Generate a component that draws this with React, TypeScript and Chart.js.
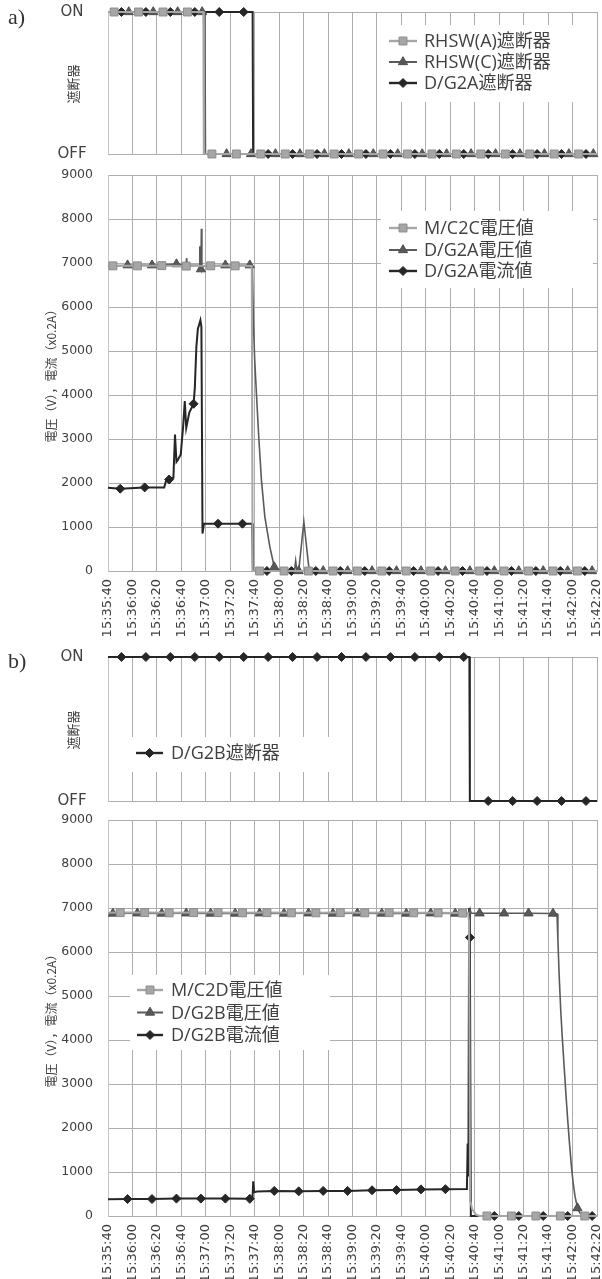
import React, { useEffect, useRef } from "react";
import { Chart, registerables } from "chart.js";

Chart.register(...registerables);

// Time axis: seconds after 15:35:40, one tick every 20 s up to 15:42:20
const START_SECONDS = 15 * 3600 + 35 * 60 + 40;
const SPAN_SECONDS = 400;
const TICK_STEP = 20;

// ---------- a) breaker states (1 = ON, 0 = OFF) ----------
const rhswATimes = [0, 5, 25, 45, 65, 78, 78.4, 85, 105, 125, 145, 165, 185, 205, 225, 245, 265, 285, 305, 325, 345, 365, 385, 400];
const rhswAStates = [1, 1, 1, 1, 1, 1, 0, 0, 0, 0, 0, 0, 0, 0, 0, 0, 0, 0, 0, 0, 0, 0, 0, 0];
const rhswAMarks = [5, 25, 45, 65, 85, 105, 125, 145, 165, 185, 205, 225, 245, 265, 285, 305, 325, 345, 365, 385];

const rhswCTimes = [0, 17, 37, 57, 77, 79.3, 79.7, 97, 117, 137, 157, 177, 197, 217, 237, 257, 277, 297, 317, 337, 357, 377, 397, 400];
const rhswCStates = [1, 1, 1, 1, 1, 1, 0, 0, 0, 0, 0, 0, 0, 0, 0, 0, 0, 0, 0, 0, 0, 0, 0, 0];
const rhswCMarks = [17, 37, 57, 77, 97, 117, 137, 157, 177, 197, 217, 237, 257, 277, 297, 317, 337, 357, 377, 397];

const dg2aBrkTimes = [0, 11, 31, 51, 71, 91, 111, 118.3, 118.7, 131, 151, 171, 191, 211, 231, 251, 271, 291, 311, 331, 351, 371, 391, 400];
const dg2aBrkStates = [1, 1, 1, 1, 1, 1, 1, 1, 0, 0, 0, 0, 0, 0, 0, 0, 0, 0, 0, 0, 0, 0, 0, 0];
const dg2aBrkMarks = [11, 31, 51, 71, 91, 111, 131, 151, 171, 191, 211, 231, 251, 271, 291, 311, 331, 351, 371, 391];

// ---------- a) voltages / current ----------
const mc2cVTimes = [0, 4, 24, 44, 64, 84, 104, 117.6, 118.3, 124, 144, 164, 184, 204, 224, 244, 264, 284, 304, 324, 344, 364, 384, 400];
const mc2cVValues = [6930, 6935, 6935, 6940, 6930, 6935, 6935, 6930, 0, 0, 0, 0, 0, 0, 0, 0, 0, 0, 0, 0, 0, 0, 0, 0];
const mc2cVMarks = [4, 24, 44, 64, 84, 104, 124, 144, 164, 184, 204, 224, 244, 264, 284, 304, 324, 344, 364, 384];

const dg2aVTimes = [0, 16, 36, 56, 63.8, 64.3, 64.8, 74.6, 75.1, 75.5, 76, 76.4, 76.8, 78, 96, 116, 118.1, 119, 120, 121.4, 123.3, 125.5, 128.3, 132.4, 136, 139, 144, 152.5, 153.5, 154.5, 156, 160.2, 164.6, 176, 196, 216, 236, 256, 276, 296, 316, 336, 356, 376, 396, 400];
const dg2aVValues = [6930, 6950, 6950, 6975, 6960, 7110, 6950, 6950, 7380, 6900, 6860, 7780, 6900, 6930, 6950, 6950, 6930, 5600, 4800, 4040, 3050, 2070, 1230, 550, 90, 40, 0, 0, 230, 0, 0, 1120, 0, 0, 0, 0, 0, 0, 0, 0, 0, 0, 0, 0, 0, 0];
const dg2aVMarks = [16, 36, 56, 76, 96, 116, 136, 156, 176, 196, 216, 236, 256, 276, 296, 316, 336, 356, 376, 396];

const dg2aITimes = [0, 10, 30, 46, 47.5, 50, 53.5, 54.8, 56, 57, 59.5, 61.5, 62.8, 64, 66.5, 70, 71, 72.3, 73.5, 75.6, 76.4, 77.3, 78.5, 90, 110, 118, 118.5, 130, 150, 170, 190, 210, 230, 250, 270, 290, 310, 330, 350, 370, 390, 400];
const dg2aIValues = [1890, 1870, 1900, 1900, 2050, 2080, 2120, 3100, 2480, 2520, 2650, 3300, 3860, 3250, 3600, 3800, 4150, 5100, 5500, 5700, 5550, 850, 1080, 1075, 1075, 1075, 0, 0, 0, 0, 0, 0, 0, 0, 0, 0, 0, 0, 0, 0, 0, 0];
const dg2aIMarks = [10, 30, 50, 70, 90, 110, 130, 150, 170, 190, 210, 230, 250, 270, 290, 310, 330, 350, 370, 390];

// ---------- b) breaker state ----------
const dg2bBrkTimes = [0, 11, 31, 51, 71, 91, 111, 131, 151, 171, 191, 211, 231, 251, 271, 291, 295.6, 296, 311, 331, 351, 371, 391, 400];
const dg2bBrkStates = [1, 1, 1, 1, 1, 1, 1, 1, 1, 1, 1, 1, 1, 1, 1, 1, 1, 0, 0, 0, 0, 0, 0, 0];
const dg2bBrkMarks = [11, 31, 51, 71, 91, 111, 131, 151, 171, 191, 211, 231, 251, 271, 291, 311, 331, 351, 371, 391];

// ---------- b) voltages / current ----------
const mc2dVTimes = [0, 10, 30, 50, 70, 90, 110, 130, 150, 170, 190, 210, 230, 250, 270, 290, 294.6, 295.3, 296.2, 298, 301, 304, 310, 330, 350, 370, 390, 400];
const mc2dVValues = [6890, 6895, 6895, 6890, 6895, 6895, 6890, 6895, 6890, 6890, 6895, 6890, 6895, 6890, 6890, 6885, 6880, 6700, 350, 150, 30, 0, 0, 0, 0, 0, 0, 0];
const mc2dVMarks = [10, 30, 50, 70, 90, 110, 130, 150, 170, 190, 210, 230, 250, 270, 290, 310, 330, 350, 370, 390];

const dg2bVTimes = [0, 4, 24, 44, 64, 84, 104, 124, 144, 164, 184, 204, 224, 244, 264, 284, 295.8, 296.3, 297, 304, 324, 344, 364, 367.3, 368, 369, 370.3, 371.5, 373, 374.5, 376, 377.5, 379, 380.5, 382, 384, 386, 389, 392, 400];
const dg2bVValues = [6875, 6875, 6880, 6875, 6880, 6875, 6875, 6880, 6875, 6880, 6875, 6880, 6875, 6875, 6880, 6875, 6875, 6960, 6880, 6880, 6880, 6880, 6875, 6870, 6300, 5500, 4700, 4100, 3450, 2800, 2200, 1650, 1150, 750, 450, 180, 70, 10, 0, 0];
const dg2bVMarks = [4, 24, 44, 64, 84, 104, 124, 144, 164, 184, 204, 224, 244, 264, 284, 304, 324, 344, 364, 384];

const dg2bITimes = [0, 16, 36, 56, 76, 96, 116, 118.2, 118.8, 119.5, 122, 136, 156, 176, 196, 216, 236, 256, 276, 293.6, 294.2, 294.8, 295.4, 296, 296.8, 316, 336, 356, 376, 396, 400];
const dg2bIValues = [380, 385, 385, 395, 395, 395, 390, 390, 790, 540, 555, 570, 560, 570, 570, 585, 590, 605, 610, 615, 1650, 900, 7000, 6330, 0, 0, 0, 0, 0, 0, 0];
const dg2bIMarks = [16, 36, 56, 76, 96, 116, 136, 156, 176, 196, 216, 236, 256, 276, 296, 316, 336, 356, 376, 396];

// ---------- styling ----------
type Mark = "square" | "triangle" | "diamond";

const MARKS: Record<Mark, { line: string; lineWidth: number; fill: string; stroke: string; pointStyle: string; radius: number }> = {
  square: { line: "#a6a6a6", lineWidth: 2, fill: "#a6a6a6", stroke: "#8c8c8c", pointStyle: "rect", radius: 5.6 },
  triangle: { line: "#5a5a5a", lineWidth: 1.6, fill: "#595959", stroke: "#4d4d4d", pointStyle: "triangle", radius: 5.3 },
  diamond: { line: "#262626", lineWidth: 2, fill: "#262626", stroke: "#262626", pointStyle: "rectRot", radius: 4.5 },
};

const GRID = "#adadad";
const TEXT = "#404040";
const TICK_FONT = "DejaVu Sans";
const CJK_FONT = "'Open Sans', 'Noto Sans CJK JP', sans-serif";
const PLOT_LEFT = 108;
const PLOT_RIGHT = 597;
const PAGE_W = 602;

type Series = { label: string; mark: Mark; times: number[]; values: number[]; marks: number[] };

type LegendSpec = { box: [number, number, number, number]; rows: number[]; lineX0: number; lineX1: number; textX: number };

type PanelSpec = {
  top: number;
  height: number;
  plotTop: number;
  plotBottom: number;
  breaker: boolean;
  series: Series[];
  legend: LegendSpec;
  yTitle: { text: string; x: number; y: number; size: number };
};

const pad2 = (n: number) => (n < 10 ? "0" + n : String(n));
const clock = (offset: number) => {
  const s = START_SECONDS + offset;
  return `${Math.floor(s / 3600)}:${pad2(Math.floor((s % 3600) / 60))}:${pad2(s % 60)}`;
};

function drawMark(ctx: CanvasRenderingContext2D, mark: Mark, x: number, y: number) {
  const st = MARKS[mark];
  const r = st.radius;
  ctx.beginPath();
  if (mark === "square") {
    const h = r * Math.SQRT1_2;
    ctx.rect(x - h, y - h, 2 * h, 2 * h);
  } else if (mark === "triangle") {
    ctx.moveTo(x, y - r);
    ctx.lineTo(x + r * 0.866, y + r * 0.5);
    ctx.lineTo(x - r * 0.866, y + r * 0.5);
    ctx.closePath();
  } else {
    ctx.moveTo(x - r, y);
    ctx.lineTo(x, y - r);
    ctx.lineTo(x + r, y);
    ctx.lineTo(x, y + r);
    ctx.closePath();
  }
  ctx.fillStyle = st.fill;
  ctx.fill();
  ctx.strokeStyle = st.stroke;
  ctx.lineWidth = 1;
  ctx.stroke();
}

function buildConfig(p: PanelSpec): any {
  const datasets = p.series.map((s) => {
    const st = MARKS[s.mark];
    const markSet = new Set(s.marks);
    return {
      label: s.label,
      data: s.times.map((t, i) => ({ x: t, y: s.values[i] })),
      borderColor: st.line,
      borderWidth: st.lineWidth,
      backgroundColor: st.fill,
      pointBackgroundColor: st.fill,
      pointBorderColor: st.stroke,
      pointBorderWidth: 1,
      pointStyle: st.pointStyle,
      pointRadius: (c: any) => (c.raw && markSet.has(c.raw.x) ? st.radius : 0),
      pointHoverRadius: 0,
      tension: 0,
      fill: false,
      clip: false,
    };
  });

  const off = p.top;
  const overlay = {
    id: "panelOverlay",
    afterDraw(chart: any) {
      const ctx: CanvasRenderingContext2D = chart.ctx;
      ctx.save();
      ctx.fillStyle = TEXT;
      ctx.textBaseline = "middle";

      // axis title, written sideways
      ctx.save();
      ctx.translate(p.yTitle.x, p.yTitle.y - off);
      ctx.rotate(-Math.PI / 2);
      ctx.textAlign = "center";
      ctx.font = `${p.yTitle.size}px 'Noto Sans CJK JP', sans-serif`;
      ctx.fillText(p.yTitle.text, 0, 0);
      ctx.restore();

      if (p.breaker) {
        ctx.font = `15px ${TICK_FONT}`;
        ctx.textAlign = "center";
        ctx.fillText("ON", 72, p.plotTop - off);
        ctx.fillText("OFF", 72, p.plotBottom - off);
      }

      // legend
      const L = p.legend;
      ctx.fillStyle = "#ffffff";
      ctx.fillRect(L.box[0], L.box[1] - off, L.box[2], L.box[3]);
      p.series.forEach((s, i) => {
        const y = L.rows[i] - off;
        const st = MARKS[s.mark];
        ctx.beginPath();
        ctx.moveTo(L.lineX0, y);
        ctx.lineTo(L.lineX1, y);
        ctx.strokeStyle = st.line;
        ctx.lineWidth = st.lineWidth + 0.4;
        ctx.stroke();
        drawMark(ctx, s.mark, (L.lineX0 + L.lineX1) / 2, y);
        ctx.fillStyle = TEXT;
        ctx.textAlign = "left";
        ctx.font = `18px ${CJK_FONT}`;
        ctx.fillText(s.label, L.textX, y + 1);
      });
      ctx.restore();
    },
  };

  const xAxisHeight = p.top + p.height - p.plotBottom;

  return {
    type: "line",
    data: { datasets },
    plugins: [overlay],
    options: {
      animation: false,
      responsive: false,
      maintainAspectRatio: false,
      devicePixelRatio: 1,
      events: [],
      layout: { padding: { top: p.plotTop - p.top, left: 0, right: PAGE_W - PLOT_RIGHT, bottom: 0 } },
      plugins: { legend: { display: false }, tooltip: { enabled: false }, title: { display: false } },
      scales: {
        x: {
          type: "linear",
          min: 0,
          max: SPAN_SECONDS,
          afterFit: (s: any) => {
            s.height = xAxisHeight;
            s.paddingLeft = 0;
            s.paddingRight = 0;
          },
          ticks: {
            display: !p.breaker,
            stepSize: TICK_STEP,
            autoSkip: false,
            maxRotation: 90,
            minRotation: 90,
            padding: 8,
            color: TEXT,
            font: { family: TICK_FONT, size: 13 },
            callback: (v: any) => clock(Number(v)),
          },
          grid: { color: GRID, drawTicks: false, lineWidth: 1 },
          border: { display: true, color: GRID },
        },
        y: {
          type: "linear",
          min: 0,
          max: p.breaker ? 1 : 9000,
          afterFit: (s: any) => {
            s.width = PLOT_LEFT;
            s.paddingTop = 0;
            s.paddingBottom = 0;
          },
          ticks: {
            display: !p.breaker,
            stepSize: p.breaker ? 1 : 1000,
            padding: 15,
            color: TEXT,
            font: { family: TICK_FONT, size: 12.5 },
            callback: (v: any) => String(v),
          },
          grid: { color: GRID, drawTicks: false, lineWidth: 1 },
          border: { display: true, color: "#c4c4c4" },
        },
      },
    },
  };
}

function Panel({ spec }: { spec: PanelSpec }) {
  const ref = useRef<HTMLCanvasElement | null>(null);
  useEffect(() => {
    if (!ref.current) return;
    const chart = new Chart(ref.current, buildConfig(spec));
    return () => chart.destroy();
  }, [spec]);
  return (
    <canvas
      ref={ref}
      width={PAGE_W}
      height={spec.height}
      style={{ position: "absolute", left: 0, top: spec.top, width: PAGE_W, height: spec.height }}
    />
  );
}

const BRK_TITLE = "遮断器";
const VI_TITLE = "電圧（V），電流（x0.2A）";

const PANELS: PanelSpec[] = [
  {
    top: 0,
    height: 170,
    plotTop: 12,
    plotBottom: 154,
    breaker: true,
    series: [
      { label: "RHSW(A)遮断器", mark: "square", times: rhswATimes, values: rhswAStates, marks: rhswAMarks },
      { label: "RHSW(C)遮断器", mark: "triangle", times: rhswCTimes, values: rhswCStates, marks: rhswCMarks },
      { label: "D/G2A遮断器", mark: "diamond", times: dg2aBrkTimes, values: dg2aBrkStates, marks: dg2aBrkMarks },
    ],
    legend: { box: [381, 25, 212, 77], rows: [41, 62, 83], lineX0: 389, lineX1: 417, textX: 424 },
    yTitle: { text: BRK_TITLE, x: 73, y: 84, size: 13 },
  },
  {
    top: 160,
    height: 485,
    plotTop: 175,
    plotBottom: 571,
    breaker: false,
    series: [
      { label: "M/C2C電圧値", mark: "square", times: mc2cVTimes, values: mc2cVValues, marks: mc2cVMarks },
      { label: "D/G2A電圧値", mark: "triangle", times: dg2aVTimes, values: dg2aVValues, marks: dg2aVMarks },
      { label: "D/G2A電流値", mark: "diamond", times: dg2aITimes, values: dg2aIValues, marks: dg2aIMarks },
    ],
    legend: { box: [381, 211, 212, 77], rows: [228, 250, 271], lineX0: 389, lineX1: 417, textX: 424 },
    yTitle: { text: VI_TITLE, x: 51, y: 373, size: 12 },
  },
  {
    top: 645,
    height: 170,
    plotTop: 657,
    plotBottom: 801,
    breaker: true,
    series: [{ label: "D/G2B遮断器", mark: "diamond", times: dg2bBrkTimes, values: dg2bBrkStates, marks: dg2bBrkMarks }],
    legend: { box: [128, 737, 202, 35], rows: [753], lineX0: 136, lineX1: 163, textX: 171 },
    yTitle: { text: BRK_TITLE, x: 73, y: 730, size: 13 },
  },
  {
    top: 805,
    height: 474,
    plotTop: 820,
    plotBottom: 1216,
    breaker: false,
    series: [
      { label: "M/C2D電圧値", mark: "square", times: mc2dVTimes, values: mc2dVValues, marks: mc2dVMarks },
      { label: "D/G2B電圧値", mark: "triangle", times: dg2bVTimes, values: dg2bVValues, marks: dg2bVMarks },
      { label: "D/G2B電流値", mark: "diamond", times: dg2bITimes, values: dg2bIValues, marks: dg2bIMarks },
    ],
    legend: { box: [130, 975, 200, 75], rows: [990, 1012.5, 1035], lineX0: 137, lineX1: 163, textX: 171 },
    yTitle: { text: VI_TITLE, x: 51, y: 1018, size: 12 },
  },
];

const tagStyle: React.CSSProperties = {
  position: "absolute",
  left: 8,
  fontFamily: "'Liberation Serif', 'DejaVu Serif', serif",
  fontSize: 22,
  lineHeight: "22px",
  color: "#333",
};

export default function App() {
  return (
    <div style={{ position: "absolute", left: 0, top: 0, width: PAGE_W, height: 1279, background: "#ffffff", overflow: "hidden" }}>
      {PANELS.map((p, i) => (
        <Panel key={i} spec={p} />
      ))}
      <div style={{ ...tagStyle, top: 6 }}>a)</div>
      <div style={{ ...tagStyle, top: 650 }}>b)</div>
    </div>
  );
}
